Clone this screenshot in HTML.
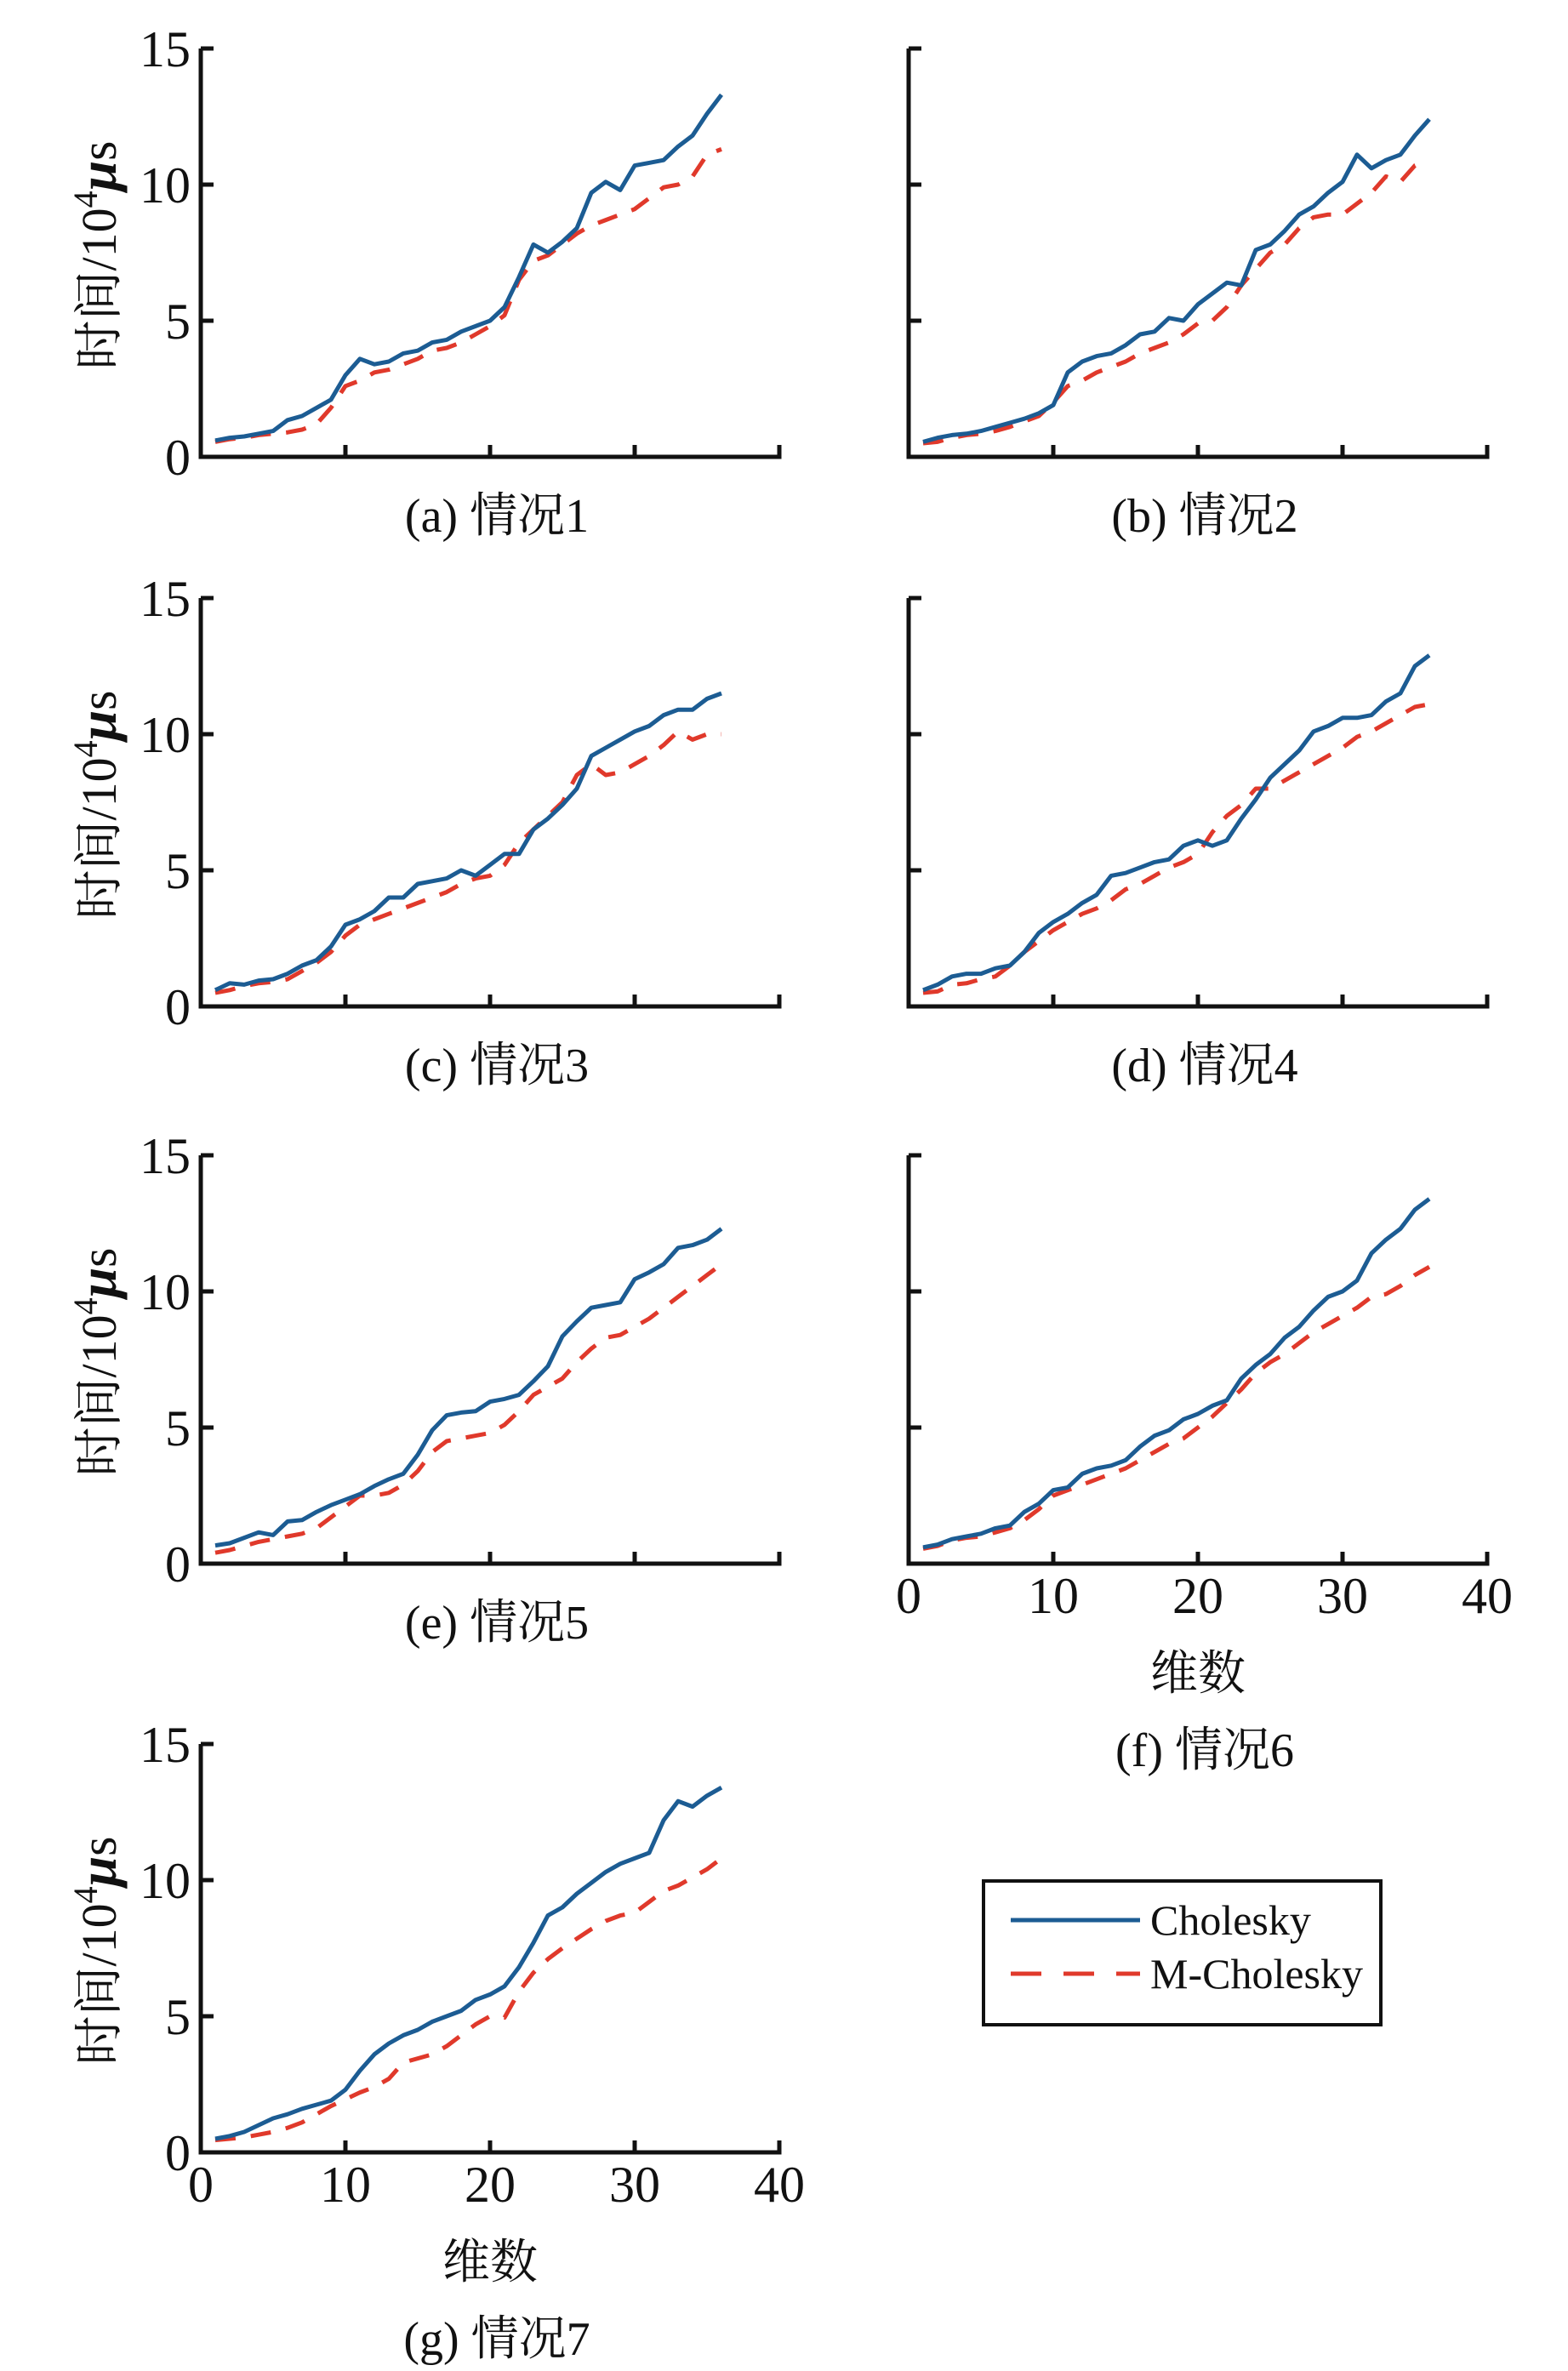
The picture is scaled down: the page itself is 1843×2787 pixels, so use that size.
<!DOCTYPE html>
<html><head><meta charset="utf-8">
<style>
html,body{margin:0;padding:0;background:#fff;}
svg{display:block;}
text{font-family:"Liberation Serif","Noto Serif CJK SC","Noto Sans CJK SC",serif;fill:#111;}
</style></head>
<body>
<svg id="chart" width="1843" height="2787" viewBox="0 0 1843 2787" xmlns="http://www.w3.org/2000/svg">
<g id="panels"></g>
<g id="legend">
  <rect x="1156" y="2211" width="467" height="169" fill="#fff" stroke="#111" stroke-width="4"/>
  <line x1="1188" y1="2257" x2="1340" y2="2257" stroke="#1c5c93" stroke-width="5"/>
  <text x="1352" y="2274" font-size="50">Cholesky</text>
  <line x1="1188" y1="2320" x2="1340" y2="2320" stroke="#e0392b" stroke-width="5" stroke-dasharray="36,26"/>
  <text x="1352" y="2337" font-size="50">M-Cholesky</text>
</g>
</svg>
<script>
const xValues = [1,2,3,4,5,6,7,8,9,10,11,12,13,14,15,16,17,18,19,20,21,22,23,24,25,26,27,28,29,30,31,32,33,34,35,36];
const yTicks = [0,5,10,15];
const xTicks = [0,10,20,30,40];
const panelNames = ["a","b","c","d","e","f","g"];
const captions = ["(a) 情况1","(b) 情况2","(c) 情况3","(d) 情况4","(e) 情况5","(f) 情况6","(g) 情况7"];
const cholA = [0.6,0.7,0.75,0.85,0.95,1.35,1.5,1.8,2.1,3.0,3.6,3.4,3.5,3.8,3.9,4.2,4.3,4.6,4.8,5.0,5.5,6.6,7.8,7.5,7.9,8.4,9.7,10.1,9.8,10.7,10.8,10.9,11.4,11.8,12.6,13.3];
const mcholA = [0.55,0.65,0.7,0.8,0.85,0.9,1.0,1.2,1.8,2.6,2.8,3.1,3.2,3.4,3.6,3.9,4.0,4.2,4.5,4.8,5.2,6.5,7.2,7.4,7.8,8.2,8.5,8.7,8.9,9.1,9.5,9.9,10.0,10.3,11.1,11.3];
const cholB = [0.55,0.7,0.8,0.85,0.95,1.1,1.25,1.4,1.6,1.9,3.1,3.5,3.7,3.8,4.1,4.5,4.6,5.1,5.0,5.6,6.0,6.4,6.3,7.6,7.8,8.3,8.9,9.2,9.7,10.1,11.1,10.6,10.9,11.1,11.8,12.4];
const mcholB = [0.5,0.55,0.7,0.8,0.85,0.95,1.1,1.3,1.5,2.0,2.6,2.8,3.1,3.3,3.5,3.8,4.0,4.2,4.5,4.9,5.0,5.5,6.3,6.9,7.5,7.8,8.4,8.8,8.9,8.9,9.3,9.7,10.3,10.1,10.7,10.9];
const cholC = [0.6,0.85,0.8,0.95,1.0,1.2,1.5,1.7,2.2,3.0,3.2,3.5,4.0,4.0,4.5,4.6,4.7,5.0,4.8,5.2,5.6,5.6,6.5,6.9,7.4,8.0,9.2,9.5,9.8,10.1,10.3,10.7,10.9,10.9,11.3,11.5];
const mcholC = [0.5,0.6,0.75,0.85,0.9,1.0,1.3,1.6,2.0,2.6,3.0,3.2,3.4,3.6,3.8,4.0,4.2,4.5,4.7,4.8,5.2,6.0,6.5,7.0,7.5,8.5,8.9,8.5,8.6,8.9,9.2,9.6,10.1,9.8,10.0,10.0];
const cholD = [0.6,0.8,1.1,1.2,1.2,1.4,1.5,2.0,2.7,3.1,3.4,3.8,4.1,4.8,4.9,5.1,5.3,5.4,5.9,6.1,5.9,6.1,6.9,7.6,8.4,8.9,9.4,10.1,10.3,10.6,10.6,10.7,11.2,11.5,12.5,12.9];
const mcholD = [0.5,0.55,0.8,0.85,1.0,1.1,1.5,2.0,2.4,2.8,3.1,3.4,3.6,3.9,4.3,4.5,4.8,5.1,5.3,5.6,6.4,7.0,7.4,8.0,8.0,8.3,8.6,8.9,9.2,9.5,9.9,10.1,10.4,10.7,11.0,11.1];
const cholE = [0.67,0.75,0.95,1.15,1.05,1.55,1.6,1.9,2.15,2.35,2.55,2.85,3.1,3.3,4.0,4.9,5.45,5.55,5.6,5.95,6.05,6.2,6.7,7.25,8.35,8.9,9.4,9.5,9.6,10.45,10.7,11.0,11.6,11.7,11.9,12.3];
const mcholE = [0.4,0.5,0.65,0.8,0.9,1.0,1.1,1.3,1.7,2.1,2.5,2.5,2.6,2.9,3.4,4.1,4.5,4.6,4.7,4.8,5.1,5.6,6.2,6.5,6.8,7.4,7.9,8.3,8.4,8.7,9.0,9.4,9.8,10.2,10.6,11.0];
const cholF = [0.6,0.7,0.9,1.0,1.1,1.3,1.4,1.9,2.2,2.7,2.8,3.3,3.5,3.6,3.8,4.3,4.7,4.9,5.3,5.5,5.8,6.0,6.8,7.3,7.7,8.3,8.7,9.3,9.8,10.0,10.4,11.4,11.9,12.3,13.0,13.4];
const mcholF = [0.55,0.65,0.85,0.95,1.0,1.15,1.3,1.6,2.0,2.5,2.7,2.9,3.1,3.3,3.5,3.8,4.1,4.4,4.6,5.0,5.4,5.9,6.4,7.0,7.4,7.7,8.1,8.5,8.8,9.1,9.4,9.8,9.9,10.2,10.6,10.9];
const cholG = [0.5,0.6,0.75,1.0,1.25,1.4,1.6,1.75,1.9,2.3,3.0,3.6,4.0,4.3,4.5,4.8,5.0,5.2,5.6,5.8,6.1,6.8,7.7,8.7,9.0,9.5,9.9,10.3,10.6,10.8,11.0,12.2,12.9,12.7,13.1,13.4];
const mcholG = [0.45,0.5,0.55,0.65,0.75,0.9,1.1,1.4,1.7,1.95,2.2,2.4,2.7,3.3,3.45,3.6,3.9,4.3,4.7,5.0,4.95,5.9,6.6,7.1,7.5,7.85,8.2,8.5,8.7,8.8,9.2,9.6,9.8,10.1,10.4,10.8];
const cholSeries = [cholA,cholB,cholC,cholD,cholE,cholF,cholG];
const mcholSeries = [mcholA,mcholB,mcholC,mcholD,mcholE,mcholF,mcholG];

const NS = "http://www.w3.org/2000/svg";
const root = document.getElementById("panels");
const layout = [[236,537,true,false],[1068,537,false,false],[236,1183,true,false],[1068,1183,false,false],[236,1838,true,false],[1068,1838,false,true],[236,2530,true,true]];
const PW = 680, PH = 480, XMAX = 40, YMAX = 15;

function mk(tag, attrs, parent){
  const e = document.createElementNS(NS, tag);
  for (const k in attrs) e.setAttribute(k, attrs[k]);
  parent.appendChild(e);
  return e;
}

layout.forEach((L, i) => {
  const [x0, y0, showY, showX] = L;
  const sx = v => x0 + v / XMAX * PW;
  const sy = v => y0 - v / YMAX * PH;
  const g = mk("g", {}, root);
  
  

  const ax = mk("path", {d:`M${x0} ${sy(15)} H${x0+15} M${x0} ${sy(15)} V${y0} H${x0+PW} V${y0-14}`, fill:"none", stroke:"#111", "stroke-width":5}, g);
  
  

  yTicks.forEach(t => {
    if (t > 0 && t < 15) {
      const tk = mk("line", {x1:x0, x2:x0+15, y1:sy(t), y2:sy(t), stroke:"#111", "stroke-width":5}, g);
      
      
    }
    if (showY) {
      const tl = mk("text", {x:x0-12, y:sy(t)+21, "font-size":60, "text-anchor":"end"}, g);
      
      
      tl.textContent = t;
    }
  });
  xTicks.forEach(t => {
    if (t > 0 && t < 40) {
      const tk = mk("line", {x1:sx(t), x2:sx(t), y1:y0, y2:y0-14, stroke:"#111", "stroke-width":5}, g);
      
      
    }
    if (showX) {
      const tl = mk("text", {x:sx(t), y:y0+58, "font-size":60, "text-anchor":"middle"}, g);
      
      
      tl.textContent = t;
    }
  });
  if (showY) {
    const yl = mk("text", {transform:`translate(${x0-100},${y0-237}) rotate(-90)`, "font-size":58, "text-anchor":"middle", "font-family":"'Liberation Sans','Noto Sans CJK SC',sans-serif"}, g);
    
    
    yl.innerHTML = '时间/10<tspan font-size="40" dy="-22">4</tspan><tspan dy="22" font-style="italic" font-weight="bold" font-family="Liberation Serif, serif" font-size="64">μ</tspan><tspan font-size="60">s</tspan>';
  }
  const cx = x0 + PW/2 + 8;
  let capY = y0 + 88;
  if (showX) {
    const xt = mk("text", {x:cx-8, y:y0+148, "font-size":56, "text-anchor":"middle"}, g);
    
    
    xt.textContent = "维数";
    capY = y0 + 238;
  }
  const cap = mk("text", {x:cx, y:capY, "font-size":56, "text-anchor":"middle"}, g);
  
  
  cap.textContent = captions[i];

  const ptsM = xValues.map((x, k) => `${sx(x).toFixed(1)},${sy(mcholSeries[i][k]).toFixed(1)}`).join(" ");
  const pm = mk("polyline", {points:ptsM, fill:"none", stroke:"#e0392b", "stroke-width":5, "stroke-dasharray":"24,18", "stroke-linejoin":"round"}, g);
  
  
  const ptsC = xValues.map((x, k) => `${sx(x).toFixed(1)},${sy(cholSeries[i][k]).toFixed(1)}`).join(" ");
  const pc = mk("polyline", {points:ptsC, fill:"none", stroke:"#1c5c93", "stroke-width":5, "stroke-linejoin":"round"}, g);
  
  
});
</script>
</body></html>
